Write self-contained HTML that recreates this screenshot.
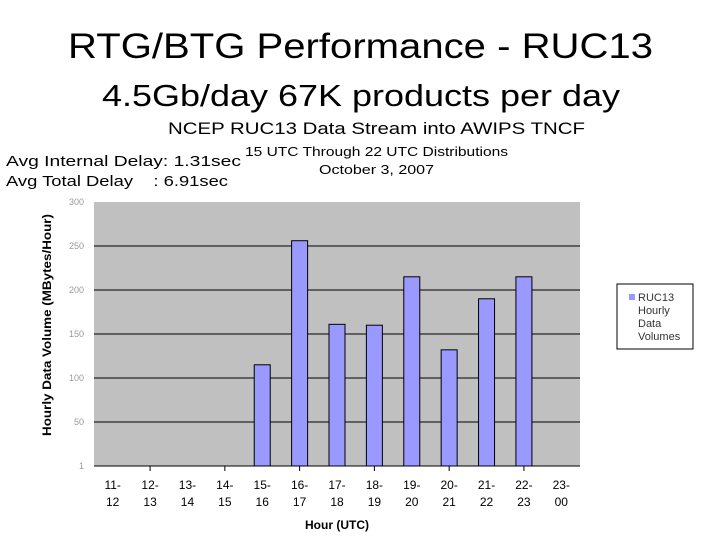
<!DOCTYPE html>
<html><head><meta charset="utf-8"><style>
body{margin:0;background:#fff;width:720px;height:540px;overflow:hidden;font-family:"Liberation Sans",sans-serif}
</style></head><body>
<svg width="720" height="540" xmlns="http://www.w3.org/2000/svg" font-family="Liberation Sans, sans-serif">
<text x="68" y="58" textLength="585" lengthAdjust="spacingAndGlyphs" font-size="35">RTG/BTG Performance - RUC13</text>
<text x="102" y="106" textLength="518" lengthAdjust="spacingAndGlyphs" font-size="31">4.5Gb/day 67K products per day</text>
<text x="168" y="134" textLength="417" lengthAdjust="spacingAndGlyphs" font-size="17">NCEP RUC13 Data Stream into AWIPS TNCF</text>
<text x="245" y="156" textLength="263" lengthAdjust="spacingAndGlyphs" font-size="13">15 UTC Through 22 UTC Distributions</text>
<text x="319" y="174" textLength="115" lengthAdjust="spacingAndGlyphs" font-size="13">October 3, 2007</text>
<text x="6" y="166" textLength="235" lengthAdjust="spacingAndGlyphs" font-size="15">Avg Internal Delay: 1.31sec</text>
<text x="6" y="186" textLength="222" lengthAdjust="spacingAndGlyphs" font-size="15" xml:space="preserve">Avg Total Delay    : 6.91sec</text>
<rect x="94" y="202" width="486" height="264" fill="#c0c0c0"/>
<g id="grid"></g><g id="bars"></g><g id="axes"></g>
<text transform="translate(51,325) rotate(-90)" text-anchor="middle" font-size="12" font-weight="bold" textLength="222" lengthAdjust="spacingAndGlyphs">Hourly Data Volume (MBytes/Hour)</text>
<text x="337" y="529" text-anchor="middle" font-size="12" font-weight="bold">Hour (UTC)</text>
<g>
<rect x="617" y="284" width="76" height="65" fill="#fff" stroke="#000" stroke-width="1"/>
<rect x="629" y="294" width="6" height="6" fill="#9999ff"/>
<text x="638" y="301" font-size="11" fill="#333">RUC13</text>
<text x="638" y="314" font-size="11" fill="#333">Hourly</text>
<text x="638" y="327" font-size="11" fill="#333">Data</text>
<text x="638" y="340" font-size="11" fill="#333">Volumes</text>
</g>
</svg>
<script>
const categoriesTop=["11-","12-","13-","14-","15-","16-","17-","18-","19-","20-","21-","22-","23-"];
const categoriesBottom=["12","13","14","15","16","17","18","19","20","21","22","23","00"];
const values=[null,null,null,null,115,256,161,160,215,132,190,215,null];
const yTicks=[0,50,100,150,200,250,300];
const NS="http://www.w3.org/2000/svg";
const X0=94,X1=580,Y0=466,Y1=202,YMAX=300;
const bw=(X1-X0)/categoriesTop.length;
const ys=v=>Y0-(v/YMAX)*(Y0-Y1);
const xc=i=>X0+(i+0.5)*bw;
function mk(tag,attrs,parent){const e=document.createElementNS(NS,tag);for(const k in attrs)e.setAttribute(k,attrs[k]);document.getElementById(parent).appendChild(e);return e;}
yTicks.forEach(t=>{
 if(t>0&&t<YMAX){const l=mk('line',{x1:X0,x2:X1,y1:ys(t),y2:ys(t),stroke:'#000','stroke-width':1},'grid');
 
 }
 const tx=mk('text',{x:X0-10,y:ys(t)+3,'text-anchor':'end','font-size':9,fill:'#999'},'axes');
 tx.textContent=t===0?'1':t;
 
 
});
values.forEach((v,i)=>{
 if(v==null)return;
 const r=mk('rect',{x:xc(i)-8,y:ys(v),width:16,height:Y0-ys(v),fill:'#9999ff',stroke:'#000','stroke-width':1},'bars');
 
 
});
const ax=mk('line',{x1:X0,x2:X1,y1:Y0,y2:Y0,stroke:'#000','stroke-width':1},'axes');


categoriesTop.forEach((c,i)=>{
 if(i%2===1){const tk=mk('line',{x1:xc(i),x2:xc(i),y1:Y0,y2:Y0+5,stroke:'#000'},'axes');
 
 }
 const t1=mk('text',{x:xc(i),y:489,'text-anchor':'middle','font-size':12},'axes');
 t1.textContent=c;
 
 
 const t2=mk('text',{x:xc(i),y:506,'text-anchor':'middle','font-size':12},'axes');
 t2.textContent=categoriesBottom[i];
 
 
});
</script>
</body></html>
